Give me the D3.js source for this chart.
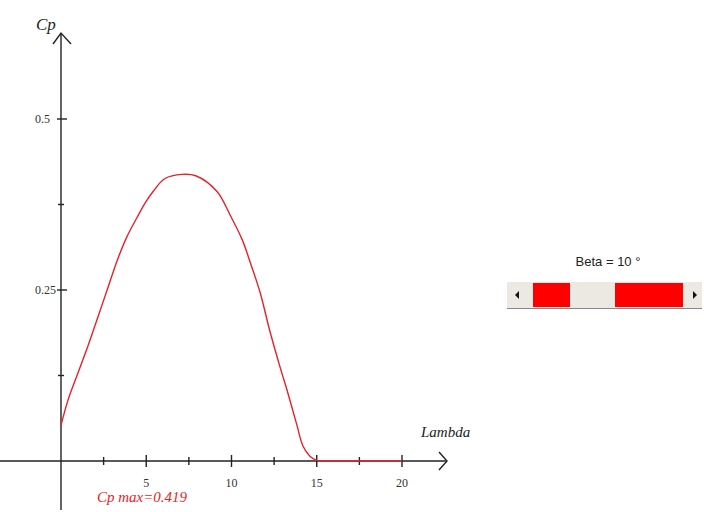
<!DOCTYPE html>
<html><head><meta charset="utf-8">
<script src="https://cdn.jsdelivr.net/npm/d3@7"></script>
<style>body{margin:0;background:#fff}svg{display:block}</style>
</head><body>
<script>
const lambda = [0, 0.41, 1.0, 1.58, 2.17, 2.76, 3.34, 3.87, 4.46, 4.93, 5.40, 6.10, 7.10, 7.90, 9.15, 9.91, 10.62, 11.09, 11.67, 12.26, 12.84, 13.31, 13.84, 14.19, 14.6, 15.0, 15.4, 16.0, 20];
const cp = [0.052, 0.089, 0.129, 0.168, 0.211, 0.254, 0.296, 0.328, 0.356, 0.377, 0.394, 0.413, 0.419, 0.417, 0.394, 0.360, 0.324, 0.291, 0.247, 0.189, 0.138, 0.099, 0.052, 0.022, 0.007, 0.001, 0, 0, 0];
const xMajor = [5, 10, 15, 20];
const xMinor = [2.5, 7.5, 12.5, 17.5];
const yMajor = [0.25, 0.5];
const yMajorLabels = ["0.25", "0.5"];
const yMinor = [0.125, 0.375];
const cpMaxLabel = "Cp max=0.419";
const betaLabel = "Beta = 10 °";

const W = 704, H = 512;
const svg = d3.select("body").append("svg").attr("width", W).attr("height", H);

const x = d3.scaleLinear().domain([0, 20]).range([61, 402]);
const y = d3.scaleLinear().domain([0, 0.5]).range([461, 119]);

const ax = svg.append("g").attr("stroke", "#222").attr("stroke-width", 1.4).attr("fill", "none");
// x axis
ax.append("line").attr("x1", 0).attr("x2", 447).attr("y1", y(0)).attr("y2", y(0));
ax.append("path").attr("d", `M439,${y(0)-9} L447,${y(0)} L439,${y(0)+9}`);
// y axis
ax.append("line").attr("x1", x(0)).attr("x2", x(0)).attr("y1", 510).attr("y2", 33);
ax.append("path").attr("d", `M${x(0)-8},44 L${x(0)},33 L${x(0)+10},44`);

xMajor.forEach(v => ax.append("line").attr("x1", x(v)).attr("x2", x(v)).attr("y1", y(0)-6).attr("y2", y(0)+6));
xMinor.forEach(v => ax.append("line").attr("x1", x(v)).attr("x2", x(v)).attr("y1", y(0)-4).attr("y2", y(0)+4));
yMajor.forEach(v => ax.append("line").attr("x1", x(0)-4).attr("x2", x(0)+6).attr("y1", y(v)).attr("y2", y(v)));
yMinor.forEach(v => ax.append("line").attr("x1", x(0)-3).attr("x2", x(0)+3).attr("y1", y(v)).attr("y2", y(v)));

const tf = "Liberation Serif, Times New Roman, serif";
svg.selectAll(".xl").data(xMajor).join("text")
  .attr("x", d => x(d)).attr("y", 487).attr("text-anchor", "middle")
  .attr("font-family", tf).attr("font-size", 12).attr("fill", "#333").text(d => d);
svg.selectAll(".yl").data(yMajor).join("text")
  .attr("x", 35).attr("y", (d) => y(d) + 4)
  .attr("font-family", tf).attr("font-size", 12).attr("fill", "#333").text((d, i) => yMajorLabels[i]);

svg.append("text").attr("x", 36).attr("y", 30).attr("font-family", tf).attr("font-style", "italic")
  .attr("font-size", 17).attr("fill", "#222").text("Cp");
svg.append("text").attr("x", 421).attr("y", 437).attr("font-family", tf).attr("font-style", "italic")
  .attr("font-size", 15).attr("fill", "#222").text("Lambda");

// curve
const pts = lambda.map((l, i) => [l, cp[i]]);
svg.append("path").datum(pts)
  .attr("d", d3.line().x(d => x(d[0])).y(d => y(d[1])).curve(d3.curveCatmullRom.alpha(0.5)))
  .attr("fill", "none").attr("stroke", "#e8202a").attr("stroke-width", 1.4);

svg.append("text").attr("x", 97).attr("y", 502).attr("font-family", tf).attr("font-style", "italic")
  .attr("font-size", 15).attr("fill", "#ee2222").text(cpMaxLabel);

// slider
const sl = svg.append("g");
sl.append("text").attr("x", 608).attr("y", 266).attr("text-anchor", "middle")
  .attr("font-family", "Liberation Sans, Arial, sans-serif").attr("font-size", 13).attr("fill", "#222").text(betaLabel);
sl.append("rect").attr("x", 507).attr("y", 282).attr("width", 195).attr("height", 26).attr("fill", "#ece9e2");
sl.append("rect").attr("x", 533).attr("y", 283).attr("width", 37).attr("height", 24).attr("fill", "#ff0000");
sl.append("rect").attr("x", 615).attr("y", 283).attr("width", 68).attr("height", 24).attr("fill", "#ff0000");
sl.append("line").attr("x1", 507).attr("x2", 702).attr("y1", 308.5).attr("y2", 308.5).attr("stroke", "#888").attr("stroke-width", 1.2);
sl.append("path").attr("d", "M515,295 L519,291 L519,299 Z").attr("fill", "#111");
sl.append("path").attr("d", "M697,295 L693,291 L693,299 Z").attr("fill", "#111");
</script>
</body></html>
